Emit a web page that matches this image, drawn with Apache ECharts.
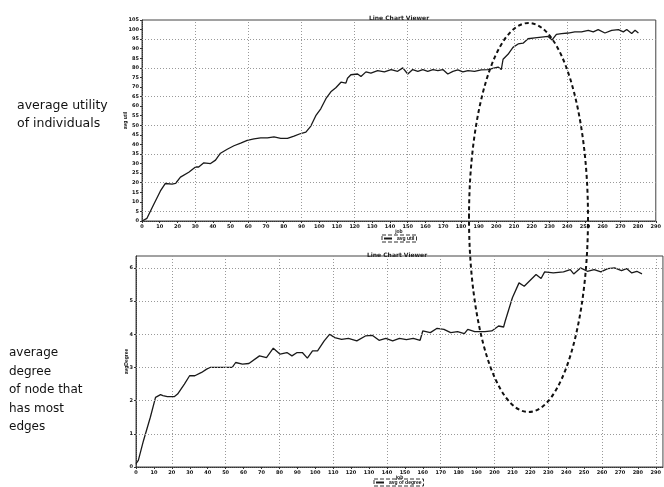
<!DOCTYPE html>
<html><head><meta charset="utf-8">
<script src="https://cdn.jsdelivr.net/npm/echarts@6/dist/echarts.min.js"></script>
<style>html,body{margin:0;padding:0;background:#fff;overflow:hidden}#c{width:664px;height:487px}</style>
</head><body><div id="c"></div>
<script>
// Top chart: average utility of individuals
const topX = [0,2.8,6.6,10.4,13.2,17,18.9,21.7,26.4,30.2,32,34.9,38.7,41.5,44.3,48.1,51.9,55.7,59.4,63.2,67,70.8,74.5,78.3,82.1,85.8,89.6,92.5,95.3,98.1,100.9,103.8,106.6,109.4,112.3,115.1,116,117.9,121.7,123.6,126.4,129.2,133,136.8,140.6,144.3,147.2,150,152.8,155.7,158.5,161.3,164.2,167,169.8,172.6,175.5,178.3,181.1,184,187.7,191.5,195.3,199.1,201,202.8,203.8,206.6,209.4,212.3,215.1,217.9,221.7,225.5,229.2,231.5,233.9,236.8,240.6,244.3,248.1,251.9,254.7,257.5,261.3,265.1,268.9,271.7,273.6,276.4,278.3,280.2];
const topY = [0,1.4,8.6,15.7,19.6,19.3,19.6,22.9,25.5,28.2,28.2,30.4,30,31.8,35.4,37.5,39.3,40.7,42.1,42.9,43.4,43.4,43.9,43.2,43.2,44.3,45.7,46.4,49.6,55,58.6,63.9,67.5,69.6,72.5,72,74.6,76.4,76.8,75.5,77.9,77.3,78.6,77.9,79.1,78.2,80,76.8,79.1,78.2,79.1,78.2,79.1,78.6,79.1,76.8,78.2,78.9,77.9,78.6,78.2,78.9,79.1,80,80.4,79.1,84.5,87.1,90.7,92.5,92.9,95.2,95.7,96.1,96.4,94.6,97.5,97.9,98.2,98.8,98.8,99.6,98.8,100,98.2,99.6,100,98.8,100,97.9,99.6,98.2];
// Bottom chart: average degree of node that has most edges
const botX = [0,1.3,4.2,8,10.9,13.7,15,17.5,21.3,23.2,27,29.9,32.8,36.6,39.4,41.3,46,53.7,55.6,59.4,63,68.9,72.8,76.6,80.4,84.2,87,89.9,92.8,95.6,98.5,101.3,105,108,110.9,114.7,118.5,123.2,128,131.8,135.6,139.4,143.2,147,150.9,154.7,158.5,160,164.2,168,171.8,175.6,179.4,183.2,185.1,189,194.7,198.5,202.3,205.1,206,210,213.7,216.6,219.4,223.2,226,228,232.8,238.5,242.3,244.2,248,251.8,255.6,259.4,263.2,267,270.9,273.7,276.6,279.4,282.3];
const botY = [0.1,0.2,0.8,1.5,2.1,2.18,2.15,2.12,2.12,2.2,2.5,2.75,2.75,2.85,2.95,3.0,3.0,3.0,3.15,3.1,3.12,3.35,3.3,3.58,3.4,3.45,3.35,3.45,3.45,3.28,3.5,3.5,3.8,4.0,3.9,3.85,3.88,3.8,3.95,3.97,3.82,3.88,3.8,3.88,3.84,3.88,3.82,4.1,4.05,4.18,4.15,4.05,4.08,4.02,4.15,4.08,4.08,4.1,4.25,4.22,4.4,5.1,5.55,5.45,5.6,5.8,5.68,5.88,5.85,5.88,5.95,5.82,6.0,5.9,5.95,5.88,5.98,6.0,5.92,5.98,5.85,5.9,5.82];
// sparse dotted gridlines
const topGridX = [30,60,90,120,150,180,210,240,270];
const topGridY = [5,20,35,50,65,80,95];
const botGridX = [20,50,80,110,140,170,200,230,260,290];
const botGridY = [1,2,3,4,5,6];
const chartTitle = 'Line Chart Viewer';
const leftTop = 'average utility\nof individuals';
const leftBot = 'average\ndegree\nof node that\nhas most\nedges';

const gridLine = {color:'#999', type:[1,2], width:1};
function ml(xs, ys){
  return {silent:true, symbol:'none', label:{show:false}, lineStyle:gridLine,
    data: xs.map(v=>({xAxis:v})).concat(ys.map(v=>({yAxis:v})))};
}
const axLabel = {fontSize:5, fontWeight:'bold', color:'#111', margin:3, fontFamily:'DejaVu Sans'};
const axLine = {show:true, lineStyle:{color:'#333', width:1, type:[1,1]}};
const tick = {show:true, length:2, lineStyle:{color:'#333'}};
const nameStyle = {fontSize:5, fontWeight:'bold', color:'#111'};

const chart = echarts.init(document.getElementById('c'), null, {renderer:'canvas'});
chart.setOption({
  animation:false,
  backgroundColor:'#fff',
  title:[
    {text:chartTitle, left:394, top:10, textAlign:'center', textStyle:{fontSize:6, fontWeight:'bold', color:'#222', fontFamily:'DejaVu Sans'}},
    {text:chartTitle, left:392, top:247, textAlign:'center', textStyle:{fontSize:6, fontWeight:'bold', color:'#222', fontFamily:'DejaVu Sans'}},
    {text:leftTop, left:12, top:92, textStyle:{fontSize:12.5, fontWeight:'normal', color:'#111', lineHeight:18, fontFamily:'DejaVu Sans'}},
    {text:leftBot, left:4, top:339, textStyle:{fontSize:12, fontWeight:'normal', color:'#111', lineHeight:18.5, fontFamily:'DejaVu Sans'}}
  ],
  legend:[
    {data:['avg util'], left:382, top:235, itemWidth:8, itemHeight:2, itemGap:2, padding:[1,2], borderColor:'#333', borderWidth:1, borderType:'dashed', textStyle:{fontSize:5, fontWeight:'bold', color:'#111'}, icon:'rect'},
    {data:['avg of degree'], left:374, top:479, itemWidth:8, itemHeight:2, itemGap:2, padding:[1,2], borderColor:'#333', borderWidth:1, borderType:'dashed', textStyle:{fontSize:5, fontWeight:'bold', color:'#111'}, icon:'rect'}
  ],
  grid:[
    {left:142, top:20, width:522, height:201, show:true, borderColor:'#444', borderWidth:1},
    {left:136, top:256, width:527, height:211, show:true, borderColor:'#444', borderWidth:1}
  ],
  xAxis:[
    {gridIndex:0, type:'value', min:0, max:290, interval:10, name:'job', nameLocation:'middle', nameGap:8, nameMoveOverlap:false, nameTextStyle:nameStyle,
     axisLine:axLine, axisTick:tick, axisLabel:axLabel, splitLine:{show:false}},
    {gridIndex:1, type:'value', min:0, max:294, interval:10, name:'job', nameLocation:'middle', nameGap:8, nameMoveOverlap:false, nameTextStyle:nameStyle,
     axisLine:axLine, axisTick:tick, axisLabel:Object.assign({}, axLabel, {showMaxLabel:false}), splitLine:{show:false}}
  ],
  yAxis:[
    {gridIndex:0, type:'value', min:0, max:105, interval:5, name:'avg util', nameLocation:'middle', nameGap:14, nameMoveOverlap:false, nameRotate:90, nameTextStyle:nameStyle,
     axisLine:axLine, axisTick:tick, axisLabel:axLabel, splitLine:{show:false}},
    {gridIndex:1, type:'value', min:0, max:6.36, interval:1, name:'avgDegree', nameLocation:'middle', nameGap:7, nameMoveOverlap:false, nameRotate:90, nameTextStyle:nameStyle,
     axisLine:axLine, axisTick:tick, axisLabel:Object.assign({}, axLabel, {showMaxLabel:false}), splitLine:{show:false}}
  ],
  series:[
    {name:'avg util', type:'line', xAxisIndex:0, yAxisIndex:0, showSymbol:false, symbol:'none',
     data: topX.map((x,i)=>[x, topY[i]]), lineStyle:{color:'#1a1a1a', width:1.3}, itemStyle:{color:'#1a1a1a'},
     markLine: ml(topGridX, topGridY)},
    {name:'avg of degree', type:'line', xAxisIndex:1, yAxisIndex:1, showSymbol:false, symbol:'none',
     data: botX.map((x,i)=>[x, botY[i]]), lineStyle:{color:'#1a1a1a', width:1.3}, itemStyle:{color:'#1a1a1a'},
     markLine: ml(botGridX, botGridY)}
  ],
  graphic:[
    {type:'ellipse', shape:{cx:528.5, cy:217.5, rx:59.5, ry:194.5}, z:100,
     style:{fill:'none', stroke:'#111', lineWidth:2, lineDash:[4,3]}}
  ]
});
</script></body></html>
